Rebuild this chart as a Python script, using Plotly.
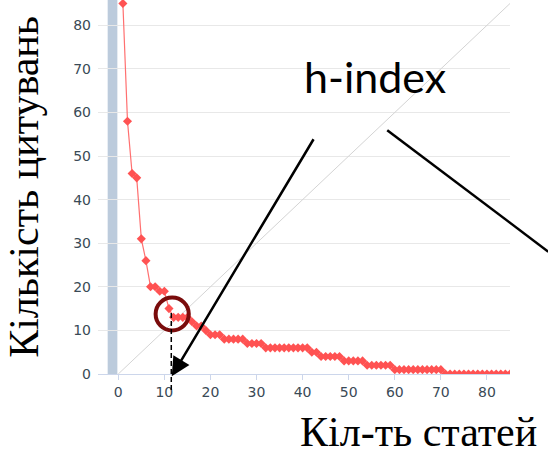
import plotly.graph_objects as go

# ---- data ----
articles = list(range(1, 86))
citations = [85, 58, 46, 45, 31, 26, 20, 20, 19, 19,
             15, 13, 13, 13, 13, 12, 11, 11, 10, 9,
             9, 9, 8, 8, 8, 8, 8, 7, 7, 7,
             7, 6, 6, 6, 6, 6, 6, 6, 6, 6,
             6, 5, 5, 4, 4, 4, 4, 4, 3, 3,
             3, 3, 3, 2, 2, 2, 2, 2, 2, 1,
             1, 1, 1, 1, 1, 1, 1, 1, 1, 1,
             0, 0, 0, 0, 0, 0, 0, 0, 0, 0,
             0, 0, 0, 0, 0]
diag_x = [0, 85]
diag_y = [0, 85]
tick_vals = [0, 10, 20, 30, 40, 50, 60, 70, 80]
tick_text = ["0", "10", "20", "30", "40", "50", "60", "70", "80"]
h_index = 12
y_title = "Кількість цитувань"
x_title = "Кіл-ть статей"
label_text = "h-index"

fig = go.Figure()

fig.add_trace(go.Scatter(
    x=diag_x, y=diag_y, mode="lines",
    line=dict(color="#d4d4d4", width=1), hoverinfo="skip", showlegend=False))

fig.add_trace(go.Scatter(
    x=articles, y=citations, mode="lines+markers",
    line=dict(color="#ff7070", width=1.2),
    marker=dict(symbol="diamond", size=7, color="#ff5252", line=dict(width=0)),
    showlegend=False))

tick_font = dict(family="DejaVu Sans", size=14, color="#3a4a56")

fig.update_layout(
    width=548, height=455, autosize=False,
    margin=dict(l=98, r=38, t=0, b=81),
    paper_bgcolor="white", plot_bgcolor="white",
    xaxis=dict(range=[-4.4, 85], tickvals=tick_vals, ticktext=tick_text,
               showgrid=False, zeroline=False, showline=True,
               linecolor="#ccd6eb", linewidth=1, ticks="outside",
               ticklen=5, tickcolor="#ccd6eb", tickfont=tick_font),
    yaxis=dict(range=[0, 85.8], tickvals=tick_vals, ticktext=tick_text,
               showgrid=True, gridcolor="#e8e8e8", gridwidth=1,
               zeroline=False, showline=False, ticks="",
               ticklabelstandoff=6, tickfont=tick_font),
)

shapes = [
    # blue band on the left
    dict(type="rect", xref="x", yref="paper", x0=-2.3, x1=-0.2, y0=0, y1=1,
         fillcolor="#bccbdc", line=dict(width=0), layer="below"),
    # circle around h-index point
    dict(type="circle", xref="x", yref="y",
         x0=h_index - 3.9, x1=h_index + 3.3, y0=9.98, y1=17.54,
         line=dict(color="#7a0c0c", width=4)),
    # dashed vertical line
    dict(type="line", xref="x", yref="paper", x0=h_index - 0.5, x1=h_index - 0.5,
         y0=0.163, y1=-0.048, line=dict(color="black", width=1.5, dash="5px,3px")),
    # second pointer line
    dict(type="line", xref="paper", yref="paper", x0=0.702, y0=0.652, x1=1.093, y1=0.327,
         line=dict(color="black", width=2.5)),
]
fig.update_layout(shapes=shapes)

annotations = [
    dict(text=y_title, xref="paper", yref="paper", x=-0.18, y=0.5,
         textangle=-90, showarrow=False, xanchor="center", yanchor="middle",
         font=dict(family="Liberation Serif", size=42, color="black")),
    dict(text=x_title, xref="paper", yref="paper", x=0.778, y=-0.155,
         showarrow=False, xanchor="center", yanchor="middle",
         font=dict(family="Liberation Serif", size=42, color="black")),
    dict(text=label_text, xref="paper", yref="paper", x=0.672, y=0.795,
         showarrow=False, xanchor="center", yanchor="middle",
         font=dict(family="Lato", size=43, color="black")),
    dict(text=" ", xref="paper", yref="paper", x=0.179, y=-0.006,
         ax=143, ay=-239, showarrow=True, arrowhead=2, arrowsize=1.5,
         arrowwidth=2.5, arrowcolor="black", standoff=0,
         font=dict(size=1)),
]
fig.update_layout(annotations=annotations)

fig.write_html("out.html",
               config={"displayModeBar": False},
               post_script="document.body.style.margin='0';document.body.style.overflow='hidden';")
